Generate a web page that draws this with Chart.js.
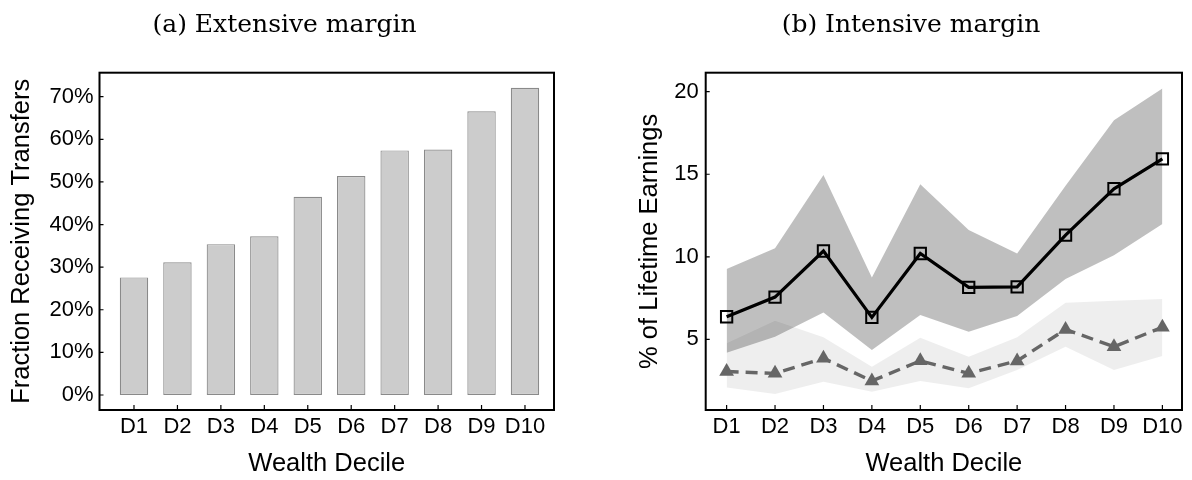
<!DOCTYPE html>
<html>
<head>
<meta charset="utf-8">
<script src="https://cdn.jsdelivr.net/npm/chart.js@4.4.1/dist/chart.umd.min.js"></script>
<style>
	body { margin: 0; background: #fff; }
	.panel { position: absolute; top: 0; width: 596px; height: 480px; }
	#left { left: 0; }
	#right { left: 596px; }
</style>
</head>
<body>
<div class="panel" id="left"><canvas id="extChart" width="596" height="480"></canvas></div>
<div class="panel" id="right"><canvas id="intChart" width="596" height="480"></canvas></div>
<script>
const deciles = ['D1', 'D2', 'D3', 'D4', 'D5', 'D6', 'D7', 'D8', 'D9', 'D10'];

// (a) share of households receiving transfers, in %
const fracReceiving = [27.6, 31.15, 35.4, 37.25, 46.5, 51.4, 57.4, 57.6, 66.6, 72.1];
const fracTicks = [0, 10, 20, 30, 40, 50, 60, 70];

// (b) transfers as % of lifetime earnings, with bands
const earningsShare = [6.37, 7.56, 10.35, 6.33, 10.2, 8.15, 8.18, 11.31, 14.12, 15.93];
const earningsHigh = [9.26, 10.51, 14.95, 8.75, 14.4, 11.62, 10.2, 14.3, 18.27, 20.19];
const earningsLow = [4.19, 5.16, 6.63, 4.35, 6.47, 5.46, 6.41, 8.65, 10.1, 11.98];
const altShare = [3.05, 2.94, 3.85, 2.48, 3.7, 2.94, 3.69, 5.6, 4.55, 5.73];
const altHigh = [4.76, 6.13, 5.12, 3.34, 5.1, 3.95, 5.12, 7.22, 7.34, 7.44];
const altLow = [2.09, 1.69, 2.43, 1.83, 2.48, 2.03, 3.14, 4.55, 3.14, 3.99];
const earningsTicks = [5, 10, 15, 20];

Chart.defaults.font.family = "'Liberation Sans', Arial, sans-serif";
Chart.defaults.color = '#000';

const sans = size => ({ family: "'Liberation Sans', Arial, sans-serif", size: size });
const toPoints = arr => arr.map((v, i) => ({ x: i + 1, y: v }));
const noGrid = { display: false, drawTicks: false, tickLength: 0 };

//	box around the plot area with inward tick marks
const frameBox = {
	id: 'frameBox',
	afterDraw(chart) {
		const { ctx, chartArea: a, scales: { x, y } } = chart;
		ctx.save();
		ctx.strokeStyle = '#000';
		ctx.lineWidth = 1.2;
		ctx.beginPath();
		x.ticks.forEach((t, i) => {
			const px = x.getPixelForTick(i);
			ctx.moveTo(px, a.bottom);
			ctx.lineTo(px, a.bottom - 5);
		});
		y.ticks.forEach((t, i) => {
			const py = y.getPixelForTick(i);
			ctx.moveTo(a.left, py);
			ctx.lineTo(a.left + 4, py);
		});
		ctx.stroke();
		ctx.lineWidth = 2;
		ctx.strokeRect(a.left, a.top, a.right - a.left, a.bottom - a.top);
		ctx.restore();
	}
};

function panelTitle(text) {
	return {
		display: true,
		text: text,
		color: '#000',
		font: { family: "'DejaVu Serif', serif", size: 25, weight: 'normal' },
		padding: { top: 10.9, bottom: 31.8 }
	};
}

function decileAxis(min, max) {
	return {
		type: 'linear',
		min: min,
		max: max,
		offset: false,
		afterBuildTicks: s => { s.ticks = deciles.map((d, i) => ({ value: i + 1 })); },
		afterFit: s => { s.height = 70; },
		grid: noGrid,
		border: { display: false },
		ticks: {
			autoSkip: false, minRotation: 0, maxRotation: 0,
			padding: 4, font: sans(22),
			callback: v => deciles[v - 1]
		},
		title: {
			display: true, text: 'Wealth Decile',
			font: sans(25.5), padding: { top: 0, bottom: 1 }
		}
	};
}

const ctxExt = document.getElementById('extChart').getContext('2d');
const extChart = new Chart(ctxExt, {
	type: 'bar',
	data: {
		datasets: [{
			data: toPoints(fracReceiving),
			backgroundColor: '#cccccc',
			borderColor: '#8a8a8a',
			borderWidth: 1.2,
			borderSkipped: false,
			categoryPercentage: 1,
			barPercentage: 0.654
		}]
	},
	options: {
		responsive: false,
		animation: false,
		devicePixelRatio: 1,
		layout: { padding: { left: 15, right: 42, top: 0, bottom: 0 } },
		plugins: {
			legend: { display: false },
			tooltip: { enabled: false },
			title: panelTitle('(a) Extensive margin')
		},
		scales: {
			x: decileAxis(0.206, 10.668),
			y: {
				type: 'linear',
				min: -3.52,
				max: 75.63,
				afterBuildTicks: s => { s.ticks = fracTicks.map(v => ({ value: v })); },
				afterFit: s => { s.width = 84.5; },
				grid: noGrid,
				border: { display: false },
				ticks: { padding: 6, font: sans(22), callback: v => v + '%' },
				title: {
					display: true, text: 'Fraction Receiving Transfers',
					font: { size: 25.5, lineHeight: 0.55 }, padding: { top: 0, bottom: 0 }
				}
			}
		}
	},
	plugins: [frameBox]
});

const ctxInt = document.getElementById('intChart').getContext('2d');
const intChart = new Chart(ctxInt, {
	type: 'line',
	data: {
		datasets: [{
			data: toPoints(earningsShare),
			borderColor: '#000',
			borderWidth: 3.2,
			pointStyle: 'rect',
			pointRadius: 8,
			pointBorderWidth: 2,
			pointBorderColor: '#000',
			pointBackgroundColor: 'rgba(0,0,0,0)',
			fill: false
		}, {
			data: toPoints(altShare),
			borderColor: '#666',
			borderWidth: 3.4,
			borderDash: [12, 7],
			pointStyle: 'triangle',
			pointRadius: 8.5,
			pointBorderWidth: 0,
			pointBackgroundColor: '#666',
			fill: false
		}, {
			data: toPoints(earningsHigh),
			borderColor: 'rgba(0,0,0,0)',
			pointRadius: 0,
			backgroundColor: 'rgba(0,0,0,0.25)',
			fill: '+1'
		}, {
			data: toPoints(earningsLow),
			borderColor: 'rgba(0,0,0,0)',
			pointRadius: 0,
			fill: false
		}, {
			data: toPoints(altHigh),
			borderColor: 'rgba(0,0,0,0)',
			pointRadius: 0,
			backgroundColor: 'rgba(0,0,0,0.065)',
			fill: '+1'
		}, {
			data: toPoints(altLow),
			borderColor: 'rgba(0,0,0,0)',
			pointRadius: 0,
			fill: false
		}]
	},
	options: {
		responsive: false,
		animation: false,
		devicePixelRatio: 1,
		layout: { padding: { left: 42, right: 8, top: 0, bottom: 0 } },
		elements: { line: { tension: 0 } },
		plugins: {
			legend: { display: false },
			tooltip: { enabled: false },
			title: panelTitle('(b) Intensive margin')
		},
		scales: {
			x: decileAxis(0.568, 10.405),
			y: {
				type: 'linear',
				min: 0.72,
				max: 21.15,
				afterBuildTicks: s => { s.ticks = earningsTicks.map(v => ({ value: v })); },
				afterFit: s => { s.width = 67.7; },
				grid: noGrid,
				border: { display: false },
				ticks: { padding: 7, font: sans(22) },
				title: {
					display: true, text: '% of Lifetime Earnings',
					font: { size: 25.5, lineHeight: 0.94 }, padding: { top: 0, bottom: 0 }
				}
			}
		}
	},
	plugins: [frameBox]
});
</script>
</body>
</html>
